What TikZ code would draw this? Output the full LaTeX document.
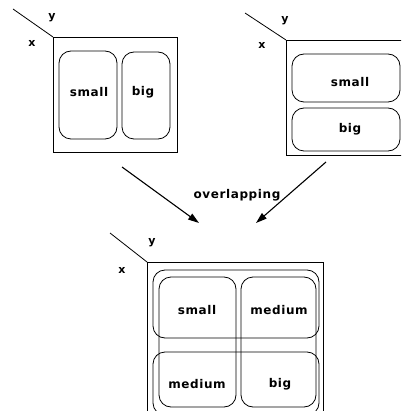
\documentclass[tikz,border=0pt]{standalone}
\usepackage{fontspec}
\usetikzlibrary{arrows.meta}
\newfontfamily\lblfont{DejaVu Sans}[LetterSpace=5]
\tikzset{
  frame/.style={draw=black, line width=0.8pt},
  cell/.style={draw=black, line width=0.8pt, rounded corners=12pt},
  axis/.style={draw=black, line width=0.8pt},
  lbl/.style={font=\lblfont\bfseries\fontsize{12}{12}\selectfont, inner sep=0pt},
  axlbl/.style={font=\lblfont\bfseries\fontsize{11}{11}\selectfont, inner sep=0pt},
  flow/.style={draw=black, line width=1.1pt, -{Triangle[length=11pt,width=7pt]}}
}
\begin{document}
\begin{tikzpicture}[x=1pt,y=-1pt]
\useasboundingbox (0,0) rectangle (401,411);
\clip (0,0) rectangle (401,411);

% ---- left panel: column partition ----
\coordinate (ao) at (13,9);
\coordinate (ac) at (53,37);
\draw[axis] (ao) -- (ac);
\node[axlbl] (ay) at (52,18) {y};
\node[axlbl] (ax) at (32,43) {x};
\draw[frame] (ac) rectangle (177,152);
\draw[cell] (59,51) rectangle (117,139);
\draw[cell] (122,52) rectangle (170,139);
\node[lbl] (as) at (89,92) {small};
\node[lbl] (ab) at (143,92) {big};

% ---- right panel: row partition ----
\coordinate (bo) at (245,13);
\coordinate (bc) at (286,40);
\draw[axis] (bo) -- (bc);
\node[axlbl] (by) at (285,21) {y};
\node[axlbl] (bx) at (262,45) {x};
\draw[frame] (bc) rectangle (408,155);
\draw[cell] (292,54) rectangle (400,102);
\draw[cell] (292,108) rectangle (400,151);
\node[lbl] (bs) at (350,82) {small};
\node[lbl] (bb) at (350,129) {big};

% ---- arrows into the combined panel ----
\coordinate (l1) at (122,167);
\coordinate (l2) at (199,223);
\coordinate (r1) at (326,162);
\coordinate (r2) at (256,223);
\draw[flow] (l1) -- (l2);
\draw[flow] (r1) -- (r2);
\node[lbl] (ov) at (237,195) {overlapping};

% ---- combined panel: both partitions overlaid ----
\coordinate (co) at (110,233);
\coordinate (cc) at (147,262);
\draw[axis] (co) -- (cc);
\node[axlbl] (cy) at (152,243) {y};
\node[axlbl] (cx) at (122,270) {x};
\draw[frame] (cc) rectangle (323,420);
\draw[cell] (153,270) rectangle (319,338);
\draw[cell] (153,352) rectangle (319,415);
\draw[cell] (159,277) rectangle (236,407);
\draw[cell] (241,277) rectangle (316,407);
\node[lbl] (cs) at (197,310) {small};
\node[lbl] (cm1) at (279,310) {medium};
\node[lbl] (cm2) at (197,384) {medium};
\node[lbl] (cb) at (280,384) {big};
\end{tikzpicture}
\end{document}
